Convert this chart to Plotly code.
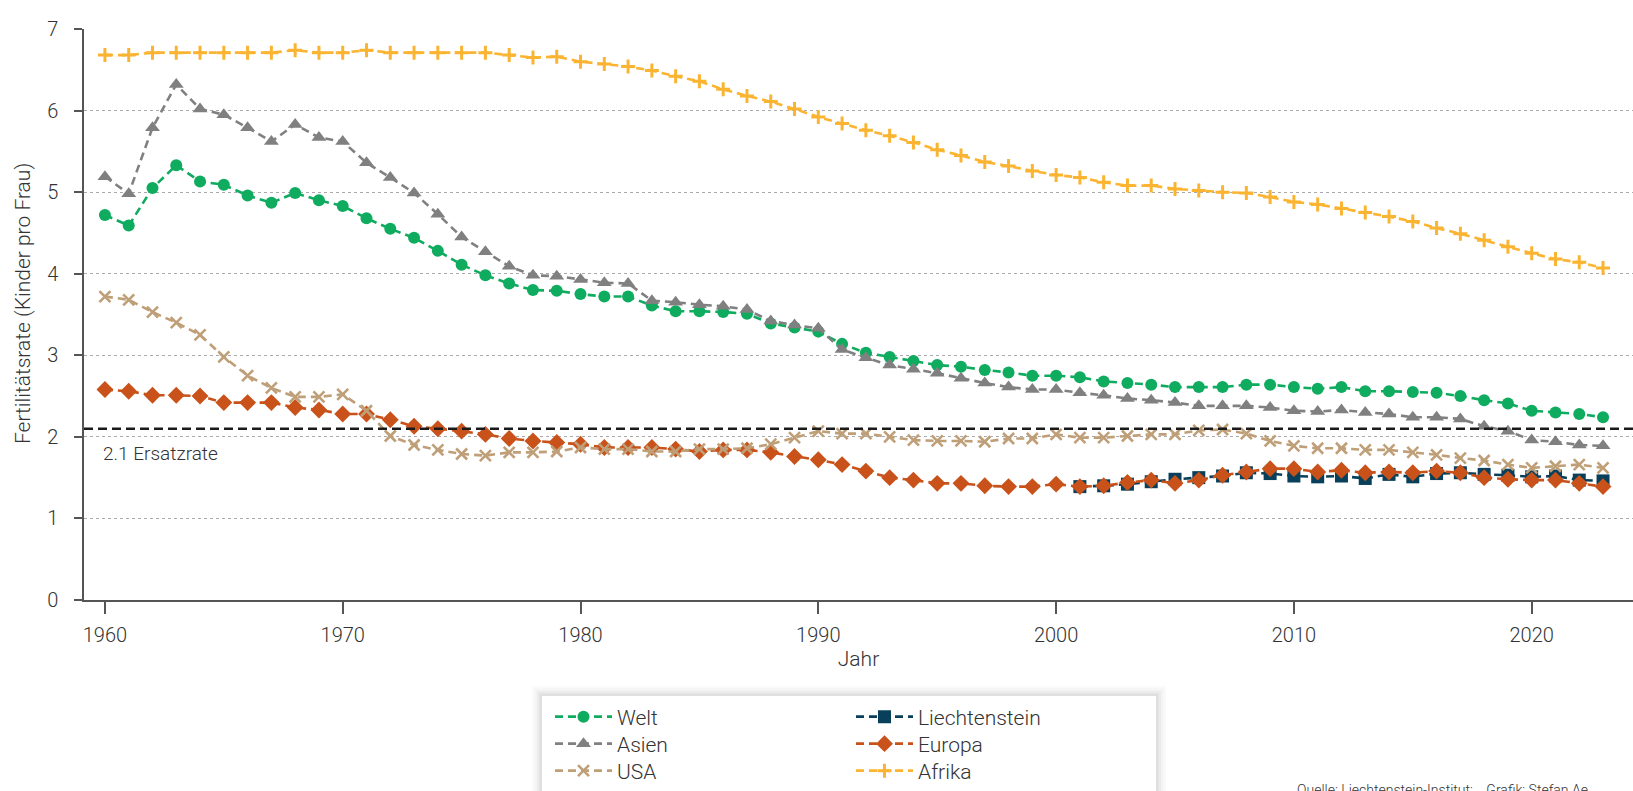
import plotly.graph_objects as go

years = list(range(1960, 2024))

welt = [4.72, 4.59, 5.05, 5.33, 5.13, 5.09, 4.96, 4.87, 4.99, 4.90,
        4.83, 4.68, 4.55, 4.44, 4.28, 4.11, 3.98, 3.88, 3.80, 3.79,
        3.75, 3.72, 3.72, 3.61, 3.54, 3.54, 3.53, 3.51, 3.39, 3.34,
        3.29, 3.14, 3.03, 2.98, 2.93, 2.88, 2.86, 2.82, 2.79, 2.75,
        2.75, 2.73, 2.68, 2.66, 2.64, 2.61, 2.61, 2.61, 2.64, 2.64,
        2.61, 2.59, 2.61, 2.56, 2.56, 2.55, 2.54, 2.50, 2.45, 2.41,
        2.32, 2.30, 2.28, 2.24]

asien = [5.19, 4.98, 5.79, 6.32, 6.02, 5.95, 5.79, 5.62, 5.83, 5.67,
         5.62, 5.36, 5.18, 4.99, 4.73, 4.45, 4.27, 4.09, 3.98, 3.97,
         3.93, 3.89, 3.88, 3.67, 3.65, 3.62, 3.60, 3.56, 3.42, 3.37,
         3.33, 3.07, 2.97, 2.88, 2.83, 2.78, 2.72, 2.66, 2.61, 2.58,
         2.58, 2.54, 2.51, 2.47, 2.45, 2.42, 2.38, 2.38, 2.38, 2.36,
         2.32, 2.31, 2.33, 2.30, 2.28, 2.24, 2.24, 2.22, 2.13, 2.07,
         1.96, 1.94, 1.90, 1.89]

usa = [3.72, 3.68, 3.53, 3.40, 3.25, 2.98, 2.75, 2.60, 2.49, 2.49,
       2.52, 2.32, 2.01, 1.90, 1.84, 1.79, 1.77, 1.81, 1.81, 1.82,
       1.87, 1.85, 1.85, 1.82, 1.82, 1.85, 1.85, 1.86, 1.91, 1.99,
       2.07, 2.04, 2.04, 2.00, 1.96, 1.95, 1.95, 1.94, 1.98, 1.98,
       2.03, 1.99, 1.99, 2.01, 2.03, 2.03, 2.08, 2.09, 2.04, 1.95,
       1.89, 1.86, 1.86, 1.84, 1.84, 1.81, 1.78, 1.74, 1.71, 1.66,
       1.62, 1.64, 1.66, 1.62]

europa = [2.58, 2.56, 2.51, 2.51, 2.50, 2.42, 2.42, 2.42, 2.36, 2.33,
          2.28, 2.28, 2.21, 2.13, 2.10, 2.07, 2.03, 1.98, 1.95, 1.93,
          1.91, 1.87, 1.87, 1.87, 1.85, 1.82, 1.84, 1.84, 1.81, 1.76,
          1.72, 1.66, 1.58, 1.50, 1.47, 1.43, 1.43, 1.40, 1.39, 1.39,
          1.42, 1.39, 1.40, 1.44, 1.47, 1.43, 1.47, 1.53, 1.57, 1.61,
          1.61, 1.57, 1.59, 1.56, 1.57, 1.56, 1.58, 1.56, 1.50, 1.48,
          1.47, 1.47, 1.43, 1.39]

afrika = [6.68, 6.68, 6.71, 6.71, 6.71, 6.71, 6.71, 6.71, 6.74, 6.71,
          6.71, 6.74, 6.71, 6.71, 6.71, 6.71, 6.71, 6.68, 6.65, 6.66,
          6.60, 6.57, 6.54, 6.49, 6.42, 6.36, 6.26, 6.18, 6.11, 6.02,
          5.92, 5.84, 5.76, 5.69, 5.61, 5.52, 5.45, 5.37, 5.32, 5.26,
          5.21, 5.18, 5.12, 5.08, 5.08, 5.04, 5.02, 5.00, 4.99, 4.94,
          4.88, 4.85, 4.80, 4.75, 4.70, 4.64, 4.56, 4.49, 4.41, 4.33,
          4.25, 4.18, 4.14, 4.07]

li_years = list(range(2001, 2024))
liechtenstein = [1.39, 1.40, 1.42, 1.45, 1.48, 1.50, 1.52, 1.56, 1.55, 1.52,
                 1.51, 1.52, 1.49, 1.54, 1.51, 1.55, 1.56, 1.54, 1.53, 1.51,
                 1.52, 1.47, 1.46]

ersatzrate = 2.1
x_ticks = [1960, 1970, 1980, 1990, 2000, 2010, 2020]
y_ticks = [0, 1, 2, 3, 4, 5, 6, 7]

FONT = "Roboto"
TXT = "#333333"
W, H = 1633, 791
L, T, B = 84, 29, 600  # plot area in pixels


def px(xp):
    return (xp - L) / (W - L)


def py(yp):
    return (B - yp) / (B - T)


fig = go.Figure()


def add(name, x, y, color, symbol, size, legend, lw=0):
    fig.add_trace(go.Scatter(
        x=x, y=y, name=name, mode="lines+markers", legend=legend,
        line=dict(color=color, width=2.6, dash="8px,5px"),
        marker=dict(symbol=symbol, size=size, color=color,
                    line=dict(width=lw, color=color)),
    ))


add("Welt", years, welt, "#0fab5f", "circle", 12, "legend")
add("Liechtenstein", li_years, liechtenstein, "#08405b", "square", 13, "legend4")
add("Asien", years, asien, "#808080", "triangle-up", 13, "legend2")
add("Europa", years, europa, "#c9521b", "diamond", 13, "legend5")
add("USA", years, usa, "#bf9f78", "x-thin", 11, "legend3", 2.6)
add("Afrika", years, afrika, "#fbb431", "cross-thin", 10, "legend6", 3)

# replacement rate line
fig.add_shape(type="line", xref="paper", x0=0, x1=1, yref="y",
              y0=ersatzrate, y1=ersatzrate,
              line=dict(color="#1a1a1a", width=2.4, dash="9px,5px"))
fig.add_annotation(x=1960, y=1.79, xref="x", yref="y", text="2.1 Ersatzrate",
                   showarrow=False, xanchor="left", yanchor="middle", xshift=-4,
                   font=dict(family=FONT, size=19, color=TXT, weight=300))

# y axis title
fig.add_annotation(xref="paper", yref="paper", x=px(23), y=py(304),
                   text="Fertilitätsrate (Kinder pro Frau)", textangle=-90,
                   showarrow=False, xanchor="center", yanchor="middle",
                   font=dict(family=FONT, size=21, color=TXT, weight=300))

# legend box with soft shadow
for i, a in enumerate([0.018, 0.025, 0.035, 0.05]):
    d = (4 - i) * 2.5
    fig.add_shape(type="rect", xref="paper", yref="paper",
                  x0=px(542 - d), x1=px(1156 + d), y0=py(830), y1=py(696 - d),
                  fillcolor=f"rgba(0,0,0,{a})", line=dict(width=0), layer="below")
fig.add_shape(type="rect", xref="paper", yref="paper",
              x0=px(542), x1=px(1156), y0=py(830), y1=py(696),
              fillcolor="white", line=dict(width=0), layer="below")

fig.add_annotation(xref="paper", yref="paper", x=px(1295), y=py(790),
                   text="Quelle: Liechtenstein-Institut;    Grafik: Stefan Ae",
                   showarrow=False, xanchor="left", yanchor="middle",
                   font=dict(family=FONT, size=14, color=TXT, weight=300))

leg_font = dict(family=FONT, size=21, color=TXT, weight=300)


def leg(xp, yp):
    return dict(orientation="v", xref="container", yref="container",
                x=xp / W, y=1 - yp / H, xanchor="left", yanchor="middle",
                itemwidth=57, bgcolor="rgba(0,0,0,0)", borderwidth=0,
                font=leg_font)


rows = [717, 744, 771]
fig.update_layout(
    width=W, height=H,
    margin=dict(l=L, r=0, t=T, b=H - B, autoexpand=False),
    paper_bgcolor="white", plot_bgcolor="white",
    font=dict(family=FONT, size=20, color=TXT, weight=300),
    showlegend=True,
    legend=leg(550, rows[0]),
    legend2=leg(550, rows[1]),
    legend3=leg(550, rows[2]),
    legend4=leg(851, rows[0]),
    legend5=leg(851, rows[1]),
    legend6=leg(851, rows[2]),
    xaxis=dict(range=[1959.12, 2024.26], tickvals=x_ticks, showgrid=False,
               showline=True, linecolor="#555555", linewidth=1.5,
               ticks="outside", ticklen=12, tickcolor="#555555", tickwidth=1.5,
               ticklabelstandoff=4, zeroline=False,
               title=dict(text="Jahr", standoff=6, font=dict(size=21)),
               tickfont=dict(size=20)),
    yaxis=dict(range=[0, 7], tickvals=y_ticks, showgrid=True,
               gridcolor="#aaaaaa", griddash="dot", gridwidth=1,
               showline=True, linecolor="#555555", linewidth=1.5,
               ticks="outside", ticklen=8, tickcolor="#555555", tickwidth=1.5,
               ticklabelstandoff=12, zeroline=False,
               tickfont=dict(size=20)),
)

fig.write_html("out.html", config={"displayModeBar": False},
               post_script="document.body.style.margin='0';"
                           "document.body.style.overflow='hidden';")
